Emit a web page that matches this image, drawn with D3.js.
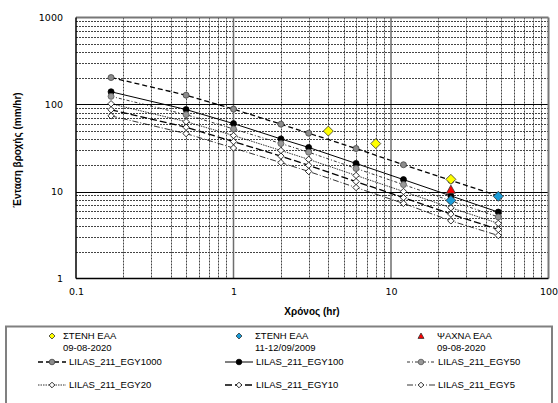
<!DOCTYPE html>
<html>
<head>
<meta charset="utf-8">
<script src="https://cdn.jsdelivr.net/npm/d3@7"></script>
<style>
  body { margin: 0; background: #fff; }
  svg { display: block; }
</style>
</head>
<body>
<div id="chart"></div>
<script>
// durations (hr)
const durations = [0.167, 0.5, 1, 2, 3, 6, 12, 24, 48];

// IDF curves (mm/hr)
const egy1000 = [204, 128, 88.5, 59.4, 46.8, 31.2, 20.3, 13.4, 8.9];
const egy100 = [140, 87.5, 60.3, 40.2, 32.1, 21.0, 13.7, 8.9, 5.8];
const egy50 = [124, 76.5, 52.4, 35.6, 28.3, 18.4, 12.0, 7.8, 5.1];
const egy20 = [102, 63.5, 44.0, 29.6, 23.4, 15.3, 10.0, 6.5, 4.3];
const egy10 = [87, 54.8, 37.5, 25.5, 20.0, 13.0, 8.5, 5.5, 3.66];
const egy5 = [74, 46.3, 31.6, 21.5, 17.0, 11.1, 7.3, 4.6, 3.12];

// observed events
const stenh2020X = [4, 8, 24];
const stenh2020Y = [49.5, 35.5, 13.8];
const stenh2009X = [24, 48];
const stenh2009Y = [7.9, 8.8];
const psaxna2020X = [24];
const psaxna2020Y = [10.5];

const xTicks = [0.1, 1, 10, 100];
const yTicks = [1, 10, 100, 1000];

const width = 558, height = 403;
const plot = { left: 76, right: 548.5, top: 17.5, bottom: 278.5 };

const svg = d3.select("#chart").append("svg")
    .attr("width", width)
    .attr("height", height);

const x = d3.scaleLog().domain([0.1, 100]).range([plot.left, plot.right]);
const y = d3.scaleLog().domain([1, 1000]).range([plot.bottom, plot.top]);

// minor grid
let minorX = [], minorY = [];
[0.1, 1, 10].forEach(d => { for (let k = 2; k <= 9; k++) minorX.push(d * k); });
[1, 10, 100].forEach(d => { for (let k = 2; k <= 9; k++) minorY.push(d * k); });

let grid = svg.append("g");
grid.selectAll(".mx").data(minorX).join("line")
    .attr("x1", d => Math.round(x(d)) + 0.5).attr("x2", d => Math.round(x(d)) + 0.5)
    .attr("y1", plot.top).attr("y2", plot.bottom)
    .attr("stroke", "#444").attr("stroke-width", 1).attr("stroke-dasharray", "2,1");
grid.selectAll(".my").data(minorY).join("line")
    .attr("x1", plot.left).attr("x2", plot.right)
    .attr("y1", d => Math.round(y(d)) + 0.5).attr("y2", d => Math.round(y(d)) + 0.5)
    .attr("stroke", "#444").attr("stroke-width", 1).attr("stroke-dasharray", "2,1");

// major grid
grid.selectAll(".Mx").data([1, 10]).join("line")
    .attr("x1", d => x(d)).attr("x2", d => x(d))
    .attr("y1", plot.top).attr("y2", plot.bottom)
    .attr("stroke", "#6e6e6e").attr("stroke-width", 1.5);
grid.selectAll(".My").data([10, 100]).join("line")
    .attr("x1", plot.left).attr("x2", plot.right)
    .attr("y1", d => Math.round(y(d)) + 0.5).attr("y2", d => Math.round(y(d)) + 0.5)
    .attr("stroke", "#000").attr("stroke-width", 1);

// plot border
svg.append("line").attr("x1", plot.left).attr("x2", plot.right)
    .attr("y1", plot.top).attr("y2", plot.top).attr("stroke", "#777").attr("stroke-width", 2);
svg.append("line").attr("x1", plot.right).attr("x2", plot.right)
    .attr("y1", plot.top).attr("y2", plot.bottom).attr("stroke", "#777").attr("stroke-width", 2);
svg.append("line").attr("x1", plot.left).attr("x2", plot.right)
    .attr("y1", plot.bottom).attr("y2", plot.bottom).attr("stroke", "#000").attr("stroke-width", 1.5);
svg.append("line").attr("x1", plot.left).attr("x2", plot.left)
    .attr("y1", plot.top).attr("y2", plot.bottom).attr("stroke", "#000").attr("stroke-width", 1.5);

// axes (labels only)
const fmt = d => d === 0.1 ? "0.1" : String(d);
let xAxis = svg.append("g")
    .attr("transform", "translate(0," + plot.bottom + ")")
    .call(d3.axisBottom(x).tickValues(xTicks).tickFormat(fmt).tickSize(0).tickPadding(10));
let yAxis = svg.append("g")
    .attr("transform", "translate(" + plot.left + ",0)")
    .call(d3.axisLeft(y).tickValues(yTicks).tickFormat(fmt).tickSize(0).tickPadding(13));
[xAxis, yAxis].forEach(a => {
    a.select(".domain").remove();
    a.selectAll("text").attr("font-family", "DejaVu Sans").attr("font-size", 9.5).attr("fill", "#000");
});

// axis titles
svg.append("text")
    .attr("x", 312).attr("y", 314.5)
    .attr("text-anchor", "middle")
    .attr("font-family", "Liberation Sans").attr("font-weight", "bold").attr("font-size", 10)
    .text("Χρόνος (hr)");
svg.append("text")
    .attr("transform", "translate(21,150) rotate(-90)")
    .attr("text-anchor", "middle")
    .attr("font-family", "Liberation Sans").attr("font-weight", "bold").attr("font-size", 10)
    .text("Ένταση βροχής (mm/hr)");

// series definitions
const series = [
    { name: "LILAS_211_EGY1000", values: egy1000, dash: "5,3", width: 1.3, marker: "circle", fill: "#8c8c8c", stroke: "#444" },
    { name: "LILAS_211_EGY100", values: egy100, dash: null, width: 1, marker: "circle", fill: "#000", stroke: "#000" },
    { name: "LILAS_211_EGY50", values: egy50, dash: "3,2,1,2", width: 0.8, marker: "circle", fill: "#999", stroke: "#555" },
    { name: "LILAS_211_EGY20", values: egy20, dash: "1.5,1", width: 0.8, marker: "diamond", fill: "#fff", stroke: "#000" },
    { name: "LILAS_211_EGY10", values: egy10, dash: "7,3", width: 1.3, marker: "diamond", fill: "#fff", stroke: "#000" },
    { name: "LILAS_211_EGY5", values: egy5, dash: "6,2,1,2", width: 0.8, marker: "diamond", fill: "#fff", stroke: "#000" }
];

const line = d3.line().x(d => x(d[0])).y(d => y(d[1]));

function drawMarker(g, type, cx, cy, size, fill, stroke) {
    if (type === "circle") {
        g.append("circle").attr("cx", cx).attr("cy", cy).attr("r", size)
            .attr("fill", fill).attr("stroke", stroke).attr("stroke-width", 0.8);
    } else if (type === "diamond") {
        g.append("path")
            .attr("d", "M" + cx + "," + (cy - size) + "L" + (cx + size) + "," + cy + "L" + cx + "," + (cy + size) + "L" + (cx - size) + "," + cy + "Z")
            .attr("fill", fill).attr("stroke", stroke).attr("stroke-width", 0.8);
    } else if (type === "triangle") {
        g.append("path")
            .attr("d", "M" + cx + "," + (cy - size) + "L" + (cx + size) + "," + (cy + size * 0.8) + "L" + (cx - size) + "," + (cy + size * 0.8) + "Z")
            .attr("fill", fill).attr("stroke", stroke).attr("stroke-width", 0.8);
    }
}

let marks = svg.append("g");
series.forEach(s => {
    let pts = durations.map((d, i) => [d, s.values[i]]);
    marks.append("path")
        .attr("d", line(pts))
        .attr("fill", "none")
        .attr("stroke", "#000")
        .attr("stroke-width", s.width)
        .attr("stroke-dasharray", s.dash);
});
series.forEach(s => {
    durations.forEach((d, i) => {
        drawMarker(marks, s.marker, x(d), y(s.values[i]), s.marker === "circle" ? 3 : 3.2, s.fill, s.stroke);
    });
});

// observations
const obs = [
    { title: "ΣΤΕΝΗ ΕΑΑ", date: "09-08-2020", xs: stenh2020X, ys: stenh2020Y, marker: "diamond", fill: "#ffff00" },
    { title: "ΣΤΕΝΗ ΕΑΑ", date: "11-12/09/2009", xs: stenh2009X, ys: stenh2009Y, marker: "diamond", fill: "#1a9bd7" },
    { title: "ΨΑΧΝΑ ΕΑΑ", date: "09-08-2020", xs: psaxna2020X, ys: psaxna2020Y, marker: "triangle", fill: "#ff0000" }
];
obs.forEach(o => {
    o.xs.forEach((d, i) => drawMarker(marks, o.marker, x(d), y(o.ys[i]), o.marker === "triangle" ? 4.5 : 5, o.fill, "#333"));
});

// legend
let legend = svg.append("g");
legend.append("rect")
    .attr("x", 6).attr("y", 326.5).attr("width", 546).attr("height", 90)
    .attr("fill", "#fff").attr("stroke", "#808080").attr("stroke-width", 2);

const colMarker = [52, 239, 421];
const colText = [63, 255, 437];
const lineX1 = [38, 225, 407];
const lineX2 = [66, 253, 435];
const lilasText = [69, 256, 438];
const rowY = [362, 385];

function legendText(tx, ty, str) {
    legend.append("text")
        .attr("x", tx).attr("y", ty).attr("dy", "0.35em")
        .attr("font-family", "Liberation Sans").attr("font-size", 9.5)
        .text(str);
}

obs.forEach((o, i) => {
    drawMarker(legend, o.marker, colMarker[i], 336, 3, o.fill, "#333");
    legendText(colText[i], 336, o.title);
    legendText(colText[i], 348, o.date);
});

series.forEach((s, i) => {
    let col = i % 3, row = Math.floor(i / 3);
    let ly = rowY[row];
    legend.append("line")
        .attr("x1", lineX1[col]).attr("x2", lineX2[col])
        .attr("y1", ly).attr("y2", ly)
        .attr("stroke", "#000").attr("stroke-width", s.width)
        .attr("stroke-dasharray", s.dash);
    drawMarker(legend, s.marker, (lineX1[col] + lineX2[col]) / 2, ly, 2.8, s.fill, s.stroke);
    legendText(lilasText[col], ly, s.name);
});
</script>
</body>
</html>
